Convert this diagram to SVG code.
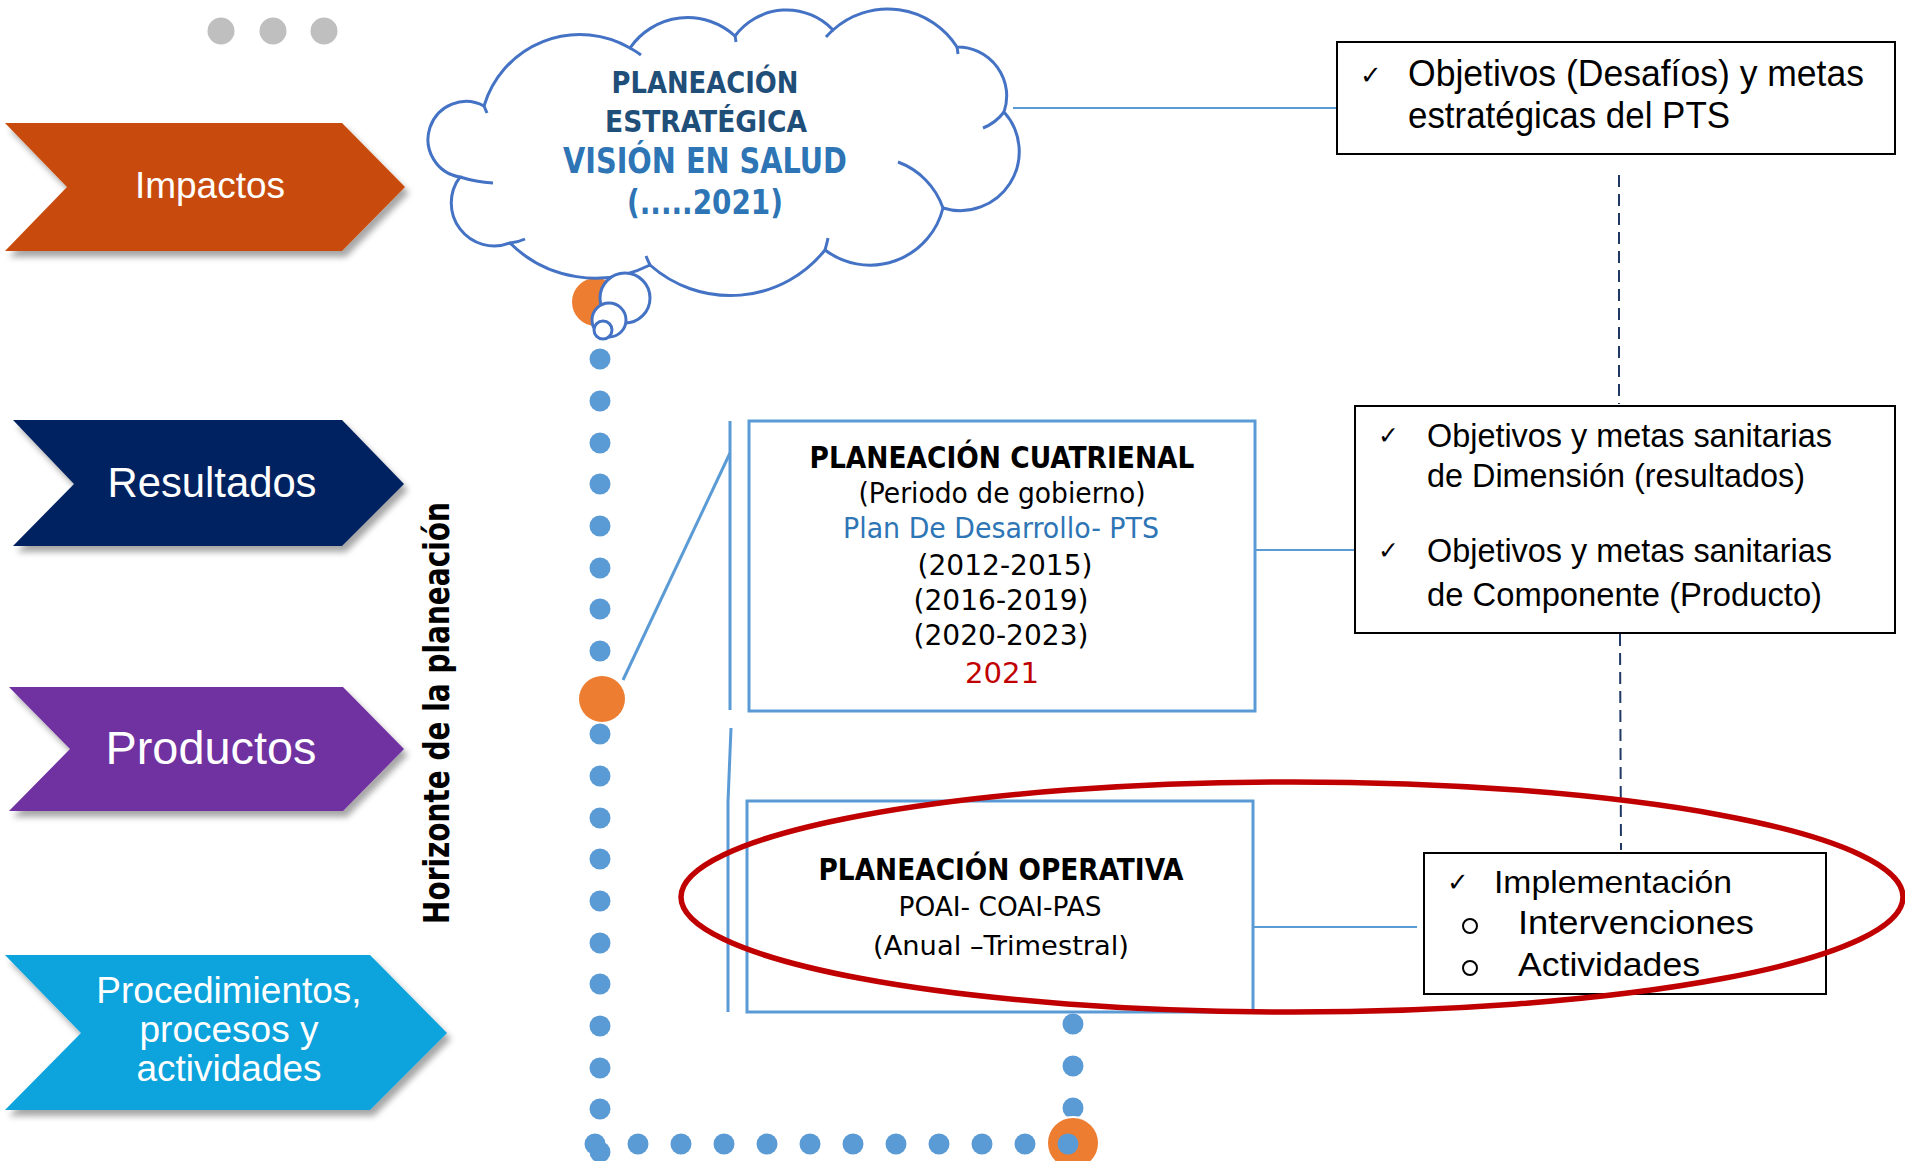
<svg xmlns="http://www.w3.org/2000/svg" width="1905" height="1161" viewBox="0 0 1905 1161">
<defs>
<filter id="sh" x="-10%" y="-10%" width="130%" height="140%">
<feDropShadow dx="4" dy="6" stdDeviation="3" flood-color="#000" flood-opacity="0.35"/>
</filter>
<style>
.chev{filter:url(#sh)}
.ct{font-family:"Liberation Sans",Arial,sans-serif;fill:#fff;text-anchor:middle}
.narrow{font-family:"Liberation Sans Narrow","DejaVu Sans Condensed","Liberation Sans",sans-serif}
.rt{font-family:"Liberation Sans",Arial,sans-serif;fill:#000}
.ck{font-family:"DejaVu Sans",sans-serif;fill:#000}
.mid{text-anchor:middle}
.blk{fill:#000}
.bx{fill:#fff;stroke:#000;stroke-width:2}
.bbx{fill:#fff;stroke:#5B9BD5;stroke-width:3}
.ln{stroke:#5B9BD5;stroke-width:2;fill:none}
.ln3{stroke:#5B9BD5;stroke-width:3;fill:none}
.dash{stroke:#1F3864;stroke-width:2;stroke-dasharray:12 7;fill:none}
.dot{fill:#5B9BD5}
.or{fill:#ED7D31}
.cl{fill:#fff;stroke:#4472C4;stroke-width:3}
.cln{fill:none;stroke:#4472C4;stroke-width:3}
</style>
</defs>
<rect width="1905" height="1161" fill="#fff"/>

<g id="gray-dots" fill="#BFBFBF">
<circle cx="221" cy="31" r="13.5"/>
<circle cx="273" cy="31" r="13.5"/>
<circle cx="324" cy="31" r="13.5"/>
</g>

<g id="impactos">
<polygon class="chev" fill="#C84C09" points="5,123 342,123 405,187 342,251 5,251 67,187"/>
<text class="ct" x="210" y="198" font-size="37">Impactos</text>
</g>
<g id="resultados">
<polygon class="chev" fill="#002060" points="13,420 342,420 404,484 342,546 13,546 74,484"/>
<text class="ct" x="212" y="497" font-size="42" textLength="209" lengthAdjust="spacingAndGlyphs">Resultados</text>
</g>
<g id="productos">
<polygon class="chev" fill="#7030A0" points="9,687 343,687 404,749 343,811 9,811 70,749"/>
<text class="ct" x="211" y="764" font-size="47" textLength="211" lengthAdjust="spacingAndGlyphs">Productos</text>
</g>
<g id="procedimientos">
<polygon class="chev" fill="#0AA3DC" points="5,955 370,955 447,1033 370,1110 5,1110 81,1033"/>
<text class="ct" font-size="37"><tspan x="229" y="1003">Procedimientos,</tspan><tspan x="229" y="1042">procesos y</tspan><tspan x="229" y="1081">actividades</tspan></text>
</g>

<g id="horizonte">
<text class="narrow" font-weight="bold" font-size="36" fill="#000" text-anchor="middle" transform="translate(449,713) rotate(-90)" textLength="422" lengthAdjust="spacingAndGlyphs">Horizonte de la planeación</text>
</g>

<g id="connectors">
<line class="ln" x1="1013" y1="108" x2="1337" y2="108"/>
<line class="ln" x1="1255" y1="550" x2="1355" y2="550"/>
<line class="ln" x1="1253" y1="927" x2="1417" y2="927"/>
<line class="dash" x1="1619" y1="175" x2="1619" y2="404"/>
<line class="dash" x1="1620" y1="634" x2="1621" y2="850"/>
<line class="ln3" x1="623" y1="680" x2="730" y2="453"/>
<line class="ln3" x1="730" y1="421" x2="730" y2="710"/>
<polyline class="ln3" points="731,728 728,802 728,1012"/>
</g>

<g id="timeline">
<g class="dot">
<circle cx="600" cy="359" r="10.5"/>
<circle cx="600" cy="401" r="10.5"/>
<circle cx="600" cy="443" r="10.5"/>
<circle cx="600" cy="484" r="10.5"/>
<circle cx="600" cy="526" r="10.5"/>
<circle cx="600" cy="568" r="10.5"/>
<circle cx="600" cy="609" r="10.5"/>
<circle cx="600" cy="651" r="10.5"/>
<circle cx="600" cy="734" r="10.5"/>
<circle cx="600" cy="776" r="10.5"/>
<circle cx="600" cy="818" r="10.5"/>
<circle cx="600" cy="859" r="10.5"/>
<circle cx="600" cy="901" r="10.5"/>
<circle cx="600" cy="943" r="10.5"/>
<circle cx="600" cy="984" r="10.5"/>
<circle cx="600" cy="1026" r="10.5"/>
<circle cx="600" cy="1068" r="10.5"/>
<circle cx="600" cy="1109" r="10.5"/>
<circle cx="600" cy="1152" r="10.5"/>
<circle cx="595" cy="1144" r="10.5"/>
<circle cx="638" cy="1144" r="10.5"/>
<circle cx="681" cy="1144" r="10.5"/>
<circle cx="724" cy="1144" r="10.5"/>
<circle cx="767" cy="1144" r="10.5"/>
<circle cx="810" cy="1144" r="10.5"/>
<circle cx="853" cy="1144" r="10.5"/>
<circle cx="896" cy="1144" r="10.5"/>
<circle cx="939" cy="1144" r="10.5"/>
<circle cx="982" cy="1144" r="10.5"/>
<circle cx="1025" cy="1144" r="10.5"/>
<circle cx="1073" cy="1024" r="10.5"/>
<circle cx="1073" cy="1066" r="10.5"/>
<circle cx="1073" cy="1108" r="10.5"/>
</g>
<circle class="or" cx="602" cy="699" r="23"/>
<circle class="or" cx="1073" cy="1143" r="26" stroke="#fff" stroke-width="2"/>
<circle class="dot" cx="1068" cy="1144" r="10.5"/>
</g>

<g id="vision-cloud">
<circle class="or" cx="596" cy="302" r="24"/>
<path class="cl" d="M484,106 A100,100 0 0 1 630,48 A70,70 0 0 1 735,36 A64,64 0 0 1 833,30 A82,82 0 0 1 957,47 A49,49 0 0 1 1004,112 A59,59 0 0 1 943,208 A75,75 0 0 1 825,250 A121,121 0 0 1 650,265 A121,121 0 0 1 510,243 A43,43 0 0 1 460,177 A38,38 0 1 1 484,106 Z"/>
<path class="cln" d="M630,48 A100,100 0 0 1 641,55 M735,36 A70,70 0 0 1 736,42 M826,37 A82,82 0 0 1 833,30 M957,47 A82,82 0 0 1 958,54 M1004,112 A49,49 0 0 1 983,128 M898,162 A75,75 0 0 1 943,208 M828,238 A121,121 0 0 1 825,250 M650,265 A121,121 0 0 1 646,256 M525,239 A43,43 0 0 1 510,243 M460,177 Q476,182 493,183 M484,106 L487,113"/>
<circle class="cl" cx="625" cy="298" r="25"/>
<circle class="cl" cx="609" cy="320" r="17"/>
<circle class="cl" cx="603" cy="330" r="9"/>
<g class="narrow mid" font-weight="bold">
<text x="705" y="93" font-size="30" fill="#1F4E79" textLength="187" lengthAdjust="spacingAndGlyphs">PLANEACIÓN</text>
<text x="706" y="132" font-size="30" fill="#1F4E79" textLength="202" lengthAdjust="spacingAndGlyphs">ESTRATÉGICA</text>
<text x="705" y="173" font-size="35" fill="#2E75B6" textLength="284" lengthAdjust="spacingAndGlyphs">VISIÓN EN SALUD</text>
<text x="705" y="214" font-size="33" fill="#2E75B6" textLength="156" lengthAdjust="spacingAndGlyphs">(.....2021)</text>
</g>
</g>

<g id="estrategicas-box">
<rect class="bx" x="1337" y="42" width="558" height="112"/>
<text class="ck" x="1360" y="84" font-size="26">✓</text>
<text class="rt" x="1408" y="86" font-size="37" textLength="456" lengthAdjust="spacingAndGlyphs">Objetivos (Desafíos) y metas</text>
<text class="rt" x="1408" y="128" font-size="37" textLength="322" lengthAdjust="spacingAndGlyphs">estratégicas del PTS</text>
</g>

<g id="cuatrienal-box">
<rect class="bbx" x="749" y="421" width="506" height="290"/>
<g class="narrow mid">
<text x="1002" y="468" font-size="30" font-weight="bold" class="blk" textLength="385" lengthAdjust="spacingAndGlyphs">PLANEACIÓN CUATRIENAL</text>
<text x="1002" y="503" font-size="28" class="blk" textLength="287" lengthAdjust="spacingAndGlyphs">(Periodo de gobierno)</text>
<text x="1001" y="538" font-size="28" fill="#2E75B6" textLength="316" lengthAdjust="spacingAndGlyphs">Plan De Desarrollo- PTS</text>
<text x="1005" y="575" font-size="29" class="blk" textLength="175" lengthAdjust="spacingAndGlyphs">(2012-2015)</text>
<text x="1001" y="610" font-size="29" class="blk" textLength="175" lengthAdjust="spacingAndGlyphs">(2016-2019)</text>
<text x="1001" y="645" font-size="29" class="blk" textLength="175" lengthAdjust="spacingAndGlyphs">(2020-2023)</text>
<text x="1002" y="683" font-size="28" fill="#C00000" textLength="74" lengthAdjust="spacingAndGlyphs">2021</text>
</g>
</g>

<g id="sanitarias-box">
<rect class="bx" x="1355" y="406" width="540" height="227"/>
<text class="ck" x="1378" y="444" font-size="25">✓</text>
<text class="rt" x="1427" y="447" font-size="33" textLength="405" lengthAdjust="spacingAndGlyphs">Objetivos y metas sanitarias</text>
<text class="rt" x="1427" y="487" font-size="33" textLength="378" lengthAdjust="spacingAndGlyphs">de Dimensión (resultados)</text>
<text class="ck" x="1378" y="559" font-size="25">✓</text>
<text class="rt" x="1427" y="562" font-size="33" textLength="405" lengthAdjust="spacingAndGlyphs">Objetivos y metas sanitarias</text>
<text class="rt" x="1427" y="606" font-size="33" textLength="395" lengthAdjust="spacingAndGlyphs">de Componente (Producto)</text>
</g>

<g id="operativa-box">
<rect class="bbx" x="747" y="801" width="506" height="211"/>
<g class="narrow mid">
<text x="1001" y="880" font-size="31" font-weight="bold" class="blk" textLength="365" lengthAdjust="spacingAndGlyphs">PLANEACIÓN OPERATIVA</text>
<text x="1000" y="916" font-size="26" class="blk" textLength="203" lengthAdjust="spacingAndGlyphs">POAI- COAI-PAS</text>
<text x="1001" y="955" font-size="27" class="blk" textLength="256" lengthAdjust="spacingAndGlyphs">(Anual –Trimestral)</text>
</g>
</g>

<g id="implementacion-box">
<rect class="bx" x="1424" y="853" width="402" height="141"/>
<text class="ck" x="1447" y="891" font-size="26">✓</text>
<text class="rt" x="1494" y="893" font-size="32" textLength="238" lengthAdjust="spacingAndGlyphs">Implementación</text>
<circle cx="1470" cy="926" r="7" fill="none" stroke="#000" stroke-width="2"/>
<text class="rt" x="1518" y="934" font-size="33" textLength="236" lengthAdjust="spacingAndGlyphs">Intervenciones</text>
<circle cx="1470" cy="968" r="7" fill="none" stroke="#000" stroke-width="2"/>
<text class="rt" x="1518" y="976" font-size="33" textLength="182" lengthAdjust="spacingAndGlyphs">Actividades</text>
</g>

<g id="highlight">
<ellipse cx="1292" cy="897" rx="611" ry="115" fill="none" stroke="#C00000" stroke-width="5.5"/>
</g>
</svg>
